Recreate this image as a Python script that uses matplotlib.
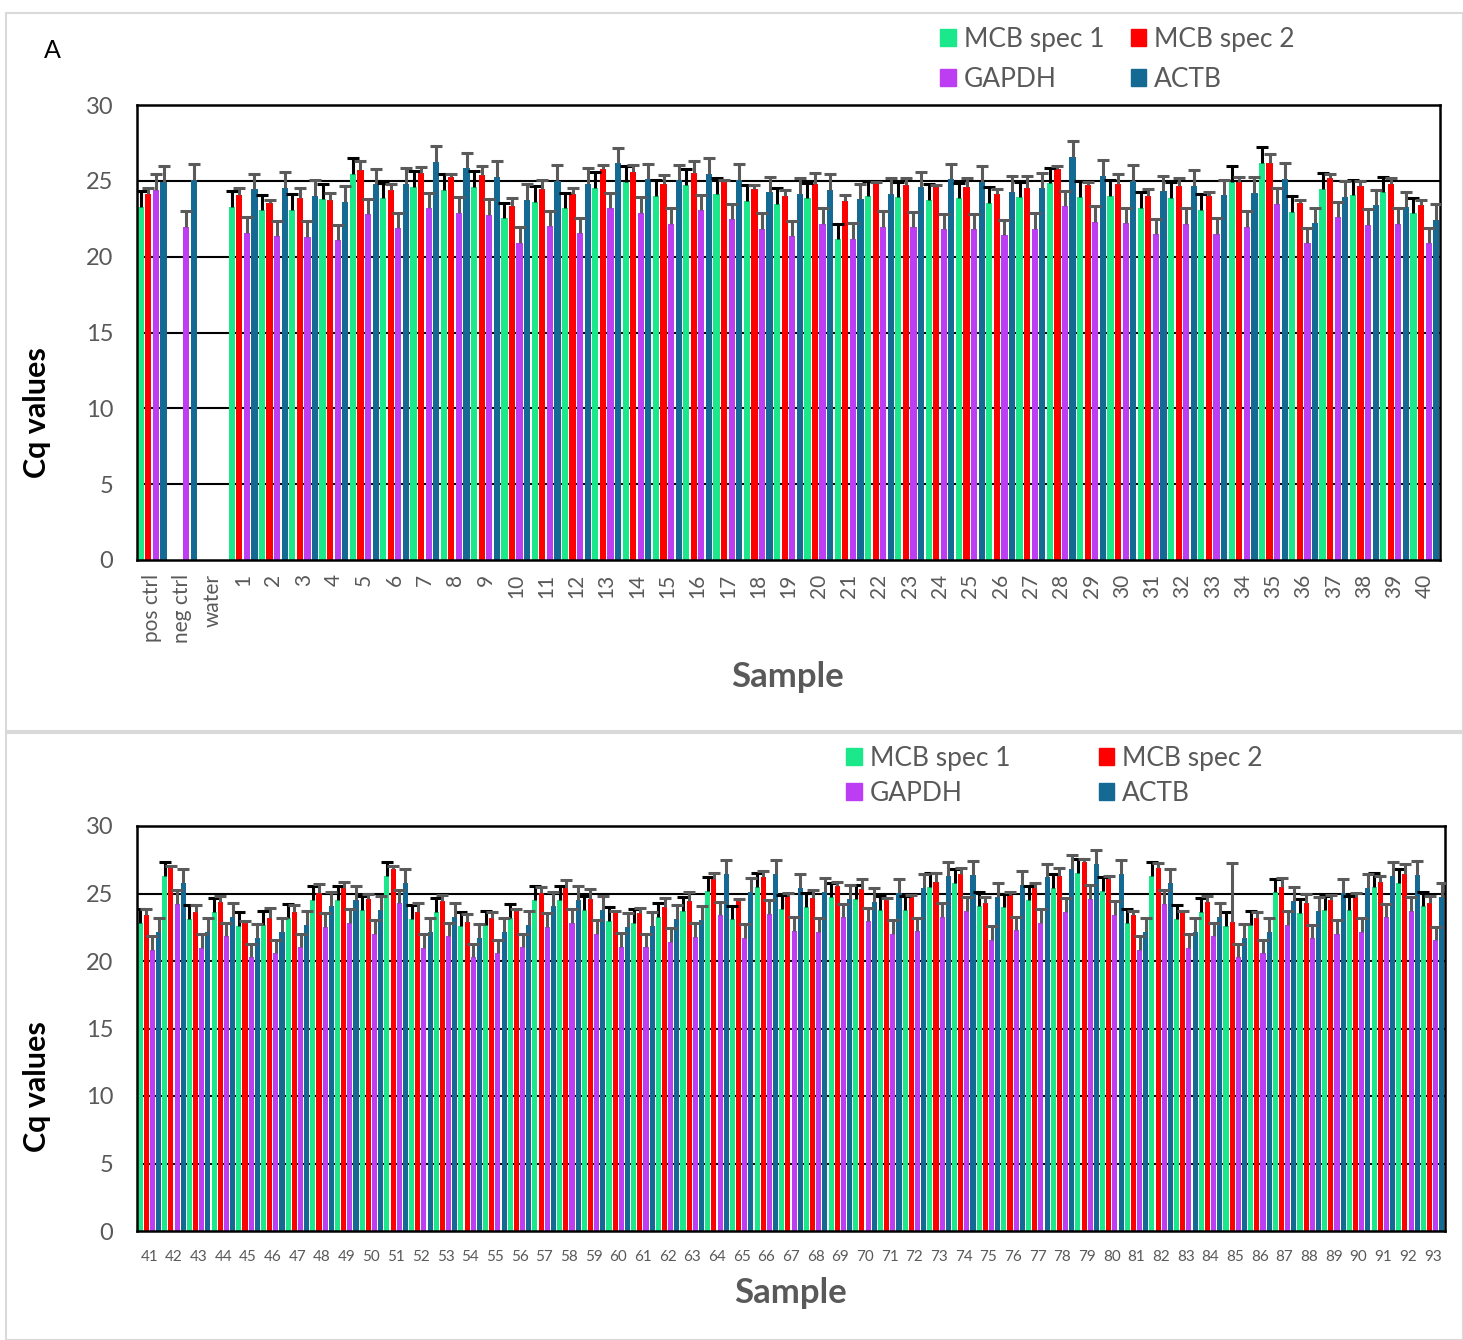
import matplotlib
matplotlib.use('Agg')
import matplotlib.pyplot as plt
import numpy as np
from matplotlib.patches import Patch, Rectangle

plt.rcParams['font.family'] = ['Lato', 'DejaVu Sans']

series_names = ['MCB spec 1', 'MCB spec 2', 'GAPDH', 'ACTB']
colors = ['#1BE88A', '#FF0000', '#BD3DF2', '#146A93']
err_colors = ['#000000', '#5A5A5A', '#5A5A5A', '#5A5A5A']

# panel A: controls + samples 1-40
labels_top = ['pos ctrl', 'neg ctrl', 'water'] + [str(i) for i in range(1, 41)]
spec1_top = [23.3, 0, 0, 23.3, 23.05, 23.08, 23.78, 25.45, 23.85, 24.59, 24.39, 24.59, 22.53, 23.6,
             23.19, 24.53, 24.92, 24.02, 24.72, 24.15, 23.67, 23.47, 23.85, 21.14, 23.98, 23.91,
             23.74, 23.85, 23.54, 23.91, 24.83, 23.93, 24.02, 23.21, 23.89, 23.08, 24.94, 26.2,
             22.97, 24.48, 24.04, 24.24, 22.86]
spec2_top = [24.1, 0, 0, 24.07, 23.56, 23.85, 23.74, 25.71, 24.37, 25.54, 25.23, 25.38, 23.36, 24.48,
             24.15, 25.78, 25.6, 24.81, 25.54, 24.92, 24.44, 24.02, 24.79, 23.65, 24.83, 24.7,
             24.57, 24.57, 24.11, 24.53, 25.78, 24.72, 24.79, 24.0, 24.66, 24.0, 24.9, 26.2,
             23.56, 25.19, 24.68, 24.77, 23.38]
gapdh_top = [24.4, 21.98, 0, 21.58, 21.36, 21.3, 21.1, 22.8, 21.87, 23.19, 22.9, 22.75, 20.92, 22.0,
             21.54, 23.19, 22.9, 22.18, 23.05, 22.46, 21.85, 21.34, 22.18, 21.17, 21.96, 21.93,
             21.82, 21.8, 21.43, 21.85, 23.34, 22.31, 22.22, 21.47, 22.18, 21.5, 21.98, 23.49,
             20.88, 22.59, 22.09, 22.18, 20.88]
actb_top = [24.95, 25.05, 0, 24.44, 24.55, 24.02, 23.63, 24.77, 24.81, 26.24, 25.82, 25.25, 23.73, 25.01,
            24.81, 26.15, 25.1, 25.03, 25.45, 25.05, 24.24, 24.15, 24.39, 23.78, 24.15, 24.57,
            25.1, 24.94, 24.26, 24.5, 26.57, 25.34, 25.01, 24.31, 24.68, 24.04, 24.22, 25.12,
            22.2, 23.95, 23.38, 23.25, 22.44]
spec2_err_top = [0.4, 0, 0, 0.45, 0.15, 0.7, 0.45, 0.6, 0.45, 0.35, 0.2, 0.6, 0.5, 0.55, 0.35, 0.25,
                 0.45, 0.6, 0.75, 0.15, 0.3, 0.4, 0.7, 0.4, 0.1, 0.5, 0.15, 0.6, 0.35, 0.8, 0.2, 0.2,
                 0.65, 0.45, 0.5, 0.25, 0.35, 0.55, 0.2, 0.25, 0.3, 0.4, 0.35]

# panel B: samples 41-93
labels_bot = [str(i) for i in range(41, 94)]
spec1_bot = [22.84, 26.29, 23.13, 23.63, 22.61, 22.66, 23.18, 24.52, 24.52, 23.8, 26.29, 23.13, 23.63,
             22.61, 22.66, 23.16, 24.52, 24.52, 23.8, 22.98, 22.84, 23.26, 23.68, 25.16, 23.08, 25.5,
             23.85, 24.0, 24.76, 24.59, 23.78, 23.78, 25.5, 25.8, 24.07, 23.97, 24.52, 25.43, 26.54,
             25.18, 22.84, 26.29, 23.13, 23.63, 22.61, 22.66, 25.08, 23.55, 23.75, 23.75, 25.48,
             25.8, 24.07]
spec2_bot = [23.38, 26.89, 23.65, 24.39, 22.84, 23.21, 23.65, 25.03, 25.38, 24.57, 26.81, 23.65, 24.42,
             22.91, 23.21, 23.7, 25.06, 25.38, 24.57, 23.68, 23.58, 23.97, 24.42, 26.05, 24.44, 26.19,
             24.81, 24.64, 25.55, 25.31, 24.52, 24.71, 25.87, 26.42, 24.27, 24.89, 25.43, 26.32, 27.31,
             26.07, 23.38, 26.89, 23.65, 24.39, 22.91, 23.21, 25.5, 24.27, 24.52, 24.71, 25.87,
             26.42, 24.27]
gapdh_bot = [20.81, 24.24, 20.99, 21.82, 20.27, 20.57, 21.01, 22.52, 22.84, 22.02, 24.27, 20.99, 21.82,
             20.27, 20.57, 21.01, 22.52, 22.84, 22.02, 21.06, 21.01, 21.41, 21.78, 23.38, 21.73, 23.48,
             22.22, 22.17, 23.23, 22.94, 22.02, 22.2, 23.28, 23.73, 21.55, 22.27, 22.81, 23.63, 24.59,
             23.41, 20.81, 24.24, 20.99, 21.82, 20.27, 20.57, 22.66, 21.68, 22.0, 22.17, 23.23,
             23.73, 21.53]
actb_bot = [22.15, 25.8, 22.15, 23.23, 21.73, 22.17, 22.66, 24.05, 24.49, 23.75, 25.8, 22.15, 23.23,
            21.73, 22.17, 22.66, 24.07, 24.49, 23.75, 22.54, 22.59, 23.11, 23.03, 26.47, 25.13, 26.47,
            25.38, 25.13, 24.61, 24.37, 25.03, 25.43, 26.29, 26.37, 24.76, 25.63, 26.19, 26.81, 27.21,
            26.47, 22.15, 25.8, 22.15, 23.23, 21.73, 22.17, 24.44, 23.7, 25.01, 25.43, 26.29,
            26.37, 24.76]
spec2_err_bot = [0.47, 0.14, 0.5, 0.42, 0.12, 0.69, 0.5, 0.65, 0.49, 0.37, 0.22, 0.62, 0.44, 0.57,
                 0.44, 0.12, 0.44, 0.62, 0.74, 0.04, 0.32, 0.67, 0.71, 0.49, 0.13, 0.5, 0.2, 0.62,
                 0.32, 0.74, 0.12, 0.18, 0.62, 0.47, 0.49, 0.24, 0.37, 0.54, 0.24, 0.25, 0.34, 0.39,
                 0.05, 0.45, 4.37, 0.44, 0.62, 0.67, 0.37, 0.35, 0.42, 0.74, 0.57]

# spec 1, GAPDH and ACTB share about the same SD
other_err = [1.03, None, 1.02, 1.03]


def draw_panel(ax, labels, data, red_err, xlabel_rot, tick_size):
    n = len(labels)
    x = np.arange(n)
    offsets = [-0.375, -0.125, 0.125, 0.375]
    for k in range(4):
        vals = np.array(data[k])
        ax.bar(x + offsets[k], vals, width=0.205, color=colors[k], zorder=2)
        if k == 1:
            err = np.array(red_err)
        else:
            err = np.full(n, other_err[k])
        m = vals > 0
        eb = ax.errorbar(x[m] + offsets[k], vals[m], yerr=[np.zeros(m.sum()), err[m]], fmt='none',
                         ecolor=err_colors[k], elinewidth=2.2, capsize=4.5, capthick=2.2, zorder=3)
        # plus-only error bars: hide the lower caps
        eb[1][0].set_visible(False)
    for g in [5, 10, 15, 20, 25]:
        ax.axhline(g, color='black', lw=1.5, zorder=1)
    ax.set_xlim(-0.5, n - 0.5)
    ax.set_ylim(0, 30)
    ax.set_yticks(range(0, 31, 5))
    ax.set_xticks(x)
    ax.set_xticklabels(labels, rotation=xlabel_rot, fontsize=tick_size, color='#595959')
    ax.tick_params(axis='both', length=0)
    ax.tick_params(axis='y', labelsize=17, labelcolor='#595959', pad=17)
    for s in ax.spines.values():
        s.set_color('black')
        s.set_linewidth(1.8)


fig = plt.figure(figsize=(14.63, 13.4), dpi=100)

# light panel borders
fig.patches.append(Rectangle((6 / 1463, 1 - 731 / 1340), 1457 / 1463, 718 / 1340,
                             transform=fig.transFigure, fill=False, ec='#D9D9D9', lw=1.5))
fig.patches.append(Rectangle((6 / 1463, 0), 1457 / 1463, 607 / 1340,
                             transform=fig.transFigure, fill=False, ec='#D9D9D9', lw=1.5))

ax1 = fig.add_axes([137 / 1463, 1 - 560 / 1340, 1303 / 1463, 455 / 1340])
draw_panel(ax1, labels_top, [spec1_top, spec2_top, gapdh_top, actb_top], spec2_err_top, 90, 15)
ax1.tick_params(axis='x', pad=10)

ax2 = fig.add_axes([137 / 1463, 1 - 1231 / 1340, 1308 / 1463, 405 / 1340])
draw_panel(ax2, labels_bot, [spec1_bot, spec2_bot, gapdh_bot, actb_bot], spec2_err_bot, 0, 11)
ax2.tick_params(axis='x', pad=14)

fig.text(52 / 1463, 1 - 50 / 1340, 'A', fontsize=18, ha='center', va='center')
fig.text(37 / 1463, 1 - 413 / 1340, 'Cq values', fontsize=22, fontweight='bold',
         rotation=90, ha='center', va='center')
fig.text(37 / 1463, 1 - 1087 / 1340, 'Cq values', fontsize=22, fontweight='bold',
         rotation=90, ha='center', va='center')
fig.text(788 / 1463, 1 - 677 / 1340, 'Sample', fontsize=25, fontweight='bold',
         color='#595959', ha='center', va='center')
fig.text(791 / 1463, 1 - 1293 / 1340, 'Sample', fontsize=25, fontweight='bold',
         color='#595959', ha='center', va='center')

handles = [Patch(color=colors[i], label=series_names[i]) for i in [0, 2, 1, 3]]
leg1 = fig.legend(handles=handles, ncol=2, loc='upper left', bbox_to_anchor=(940 / 1463, 1 - 27 / 1340),
                  frameon=False, fontsize=19, handlelength=0.6, handleheight=0.6, handletextpad=0.3,
                  columnspacing=1.0, labelspacing=0.55, borderpad=0, borderaxespad=0)
for t in leg1.get_texts():
    t.set_color('#595959')
leg2 = fig.legend(handles=handles, ncol=2, loc='upper left', bbox_to_anchor=(846 / 1463, 1 - 746 / 1340),
                  frameon=False, fontsize=19, handlelength=0.6, handleheight=0.6, handletextpad=0.3,
                  columnspacing=3.35, labelspacing=0.38, borderpad=0, borderaxespad=0)
for t in leg2.get_texts():
    t.set_color('#595959')

fig.savefig('out.png', dpi=100)
plt.close(fig)
